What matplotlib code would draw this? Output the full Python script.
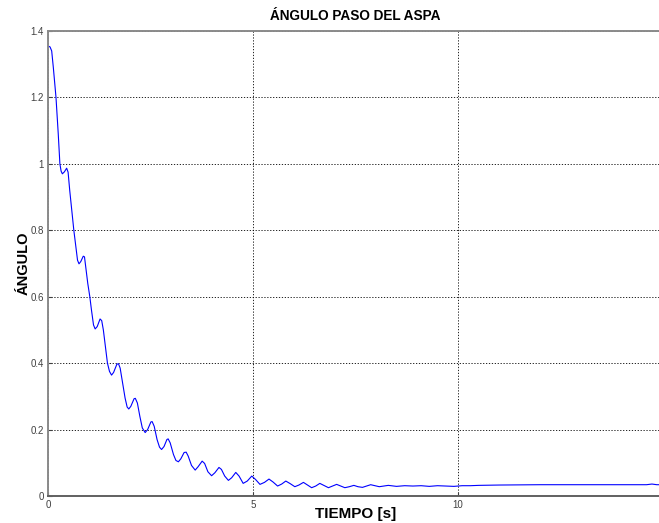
import matplotlib
matplotlib.use("Agg")
from matplotlib import pyplot as plt

# tiempo [s] and angulo
tiempo = [0.00, 0.05, 0.09, 0.13, 0.195, 0.25, 0.29, 0.32, 0.35, 0.40,
          0.455, 0.49, 0.53, 0.58, 0.63, 0.68, 0.72, 0.756, 0.80, 0.86,
          0.89, 0.93, 0.97, 1.02, 1.06, 1.11, 1.15, 1.20, 1.27, 1.31,
          1.35, 1.40, 1.45, 1.50, 1.55, 1.60, 1.68, 1.72, 1.76, 1.82,
          1.88, 1.93, 1.97, 2.02, 2.10, 2.13, 2.18, 2.24, 2.30, 2.37,
          2.43, 2.51, 2.54, 2.59, 2.66, 2.72, 2.77, 2.83, 2.90, 2.93,
          2.98, 3.06, 3.12, 3.18, 3.24, 3.32, 3.37, 3.42, 3.50, 3.59,
          3.66, 3.76, 3.82, 3.90, 3.99, 4.07, 4.17, 4.23, 4.31, 4.40,
          4.48, 4.58, 4.66, 4.76, 4.86, 4.97, 5.06, 5.17, 5.28, 5.39,
          5.49, 5.60, 5.70, 5.80, 5.91, 6.02, 6.12, 6.23, 6.33, 6.43,
          6.53, 6.63, 6.74, 6.84, 6.94, 7.04, 7.14, 7.24, 7.35, 7.46,
          7.56, 7.67, 7.77, 7.87, 7.97, 8.08, 8.20, 8.30, 8.50, 8.70,
          8.90, 9.10, 9.30, 9.50, 9.70, 9.90, 10.1, 10.3, 10.5, 11.0,
          12.0, 13.0, 14.0, 14.6, 14.73, 14.85, 15.0]
angulo = [1.355, 1.352, 1.340, 1.29, 1.20, 1.09, 1.00, 0.978, 0.970, 0.976,
          0.987, 0.975, 0.92, 0.86, 0.80, 0.75, 0.71, 0.699, 0.706, 0.722,
          0.720, 0.68, 0.64, 0.60, 0.56, 0.515, 0.503, 0.51, 0.533, 0.528,
          0.50, 0.45, 0.40, 0.375, 0.364, 0.372, 0.397, 0.398, 0.385, 0.34,
          0.295, 0.268, 0.262, 0.27, 0.293, 0.294, 0.28, 0.24, 0.205, 0.191,
          0.20, 0.223, 0.224, 0.21, 0.17, 0.147, 0.140, 0.149, 0.170, 0.172,
          0.160, 0.125, 0.107, 0.103, 0.112, 0.131, 0.132, 0.12, 0.092, 0.078,
          0.088, 0.105, 0.098, 0.073, 0.061, 0.07, 0.086, 0.08, 0.06, 0.047,
          0.055, 0.071, 0.06, 0.038, 0.045, 0.060, 0.05, 0.035, 0.041, 0.051,
          0.042, 0.030, 0.036, 0.045, 0.037, 0.028, 0.033, 0.041, 0.033, 0.025,
          0.030, 0.038, 0.031, 0.025, 0.030, 0.035, 0.030, 0.025, 0.028, 0.032,
          0.028, 0.026, 0.030, 0.034, 0.031, 0.028, 0.030, 0.032, 0.029, 0.031,
          0.030, 0.031, 0.029, 0.031, 0.030, 0.029, 0.031, 0.031, 0.032, 0.033,
          0.034, 0.034, 0.034, 0.034, 0.036, 0.034, 0.034]

yTicks = [0, 0.2, 0.4, 0.6, 0.8, 1.0, 1.2, 1.4]
yTickLabels = ["0", "0.2", "0.4", "0.6", "0.8", "1", "1.2", "1.4"]
xTicks = [0, 5, 10, 15]
# the "15" label falls outside the cropped picture
xTickLabels = ["0", "5", "10", ""]

plt.rcParams["font.family"] = ["Liberation Sans", "DejaVu Sans"]

W, H = 659, 523
fig = plt.figure(figsize=(W / 100, H / 100), dpi=100)
# axes runs a bit past the right edge, like the cropped original
ax = fig.add_axes([48 / W, (H - 496) / H, (663 - 48) / W, (496 - 31) / H])

ax.plot(tiempo, angulo, color="#0000ff", linewidth=0.8)

ax.set_xlim(0, 15)
ax.set_ylim(0, 1.4)
ax.set_xticks(xTicks)
ax.set_xticklabels(xTickLabels)
ax.set_yticks(yTicks)
ax.set_yticklabels(yTickLabels)
ax.tick_params(direction="in", length=3, width=0.8, labelsize=7,
               colors="#404040", pad=3)

ax.grid(True, color="black", linestyle=(0, (1.5, 2)), linewidth=0.6)
for side in ["left", "bottom", "right", "top"]:
    ax.spines[side].set_color("#8a8a8a")
    ax.spines[side].set_linewidth(1.4)
ax.spines["bottom"].set_color("#606060")

ax.set_title("ÁNGULO PASO DEL ASPA", fontsize=9.8, fontweight="bold", pad=8)
ax.set_xlabel("TIEMPO [s]", fontsize=11, fontweight="bold", labelpad=-2)
ax.set_ylabel("ÁNGULO", fontsize=10.5, fontweight="bold")
ax.yaxis.set_label_coords(-0.028, 0.5)

fig.savefig("out.png", dpi=100)
